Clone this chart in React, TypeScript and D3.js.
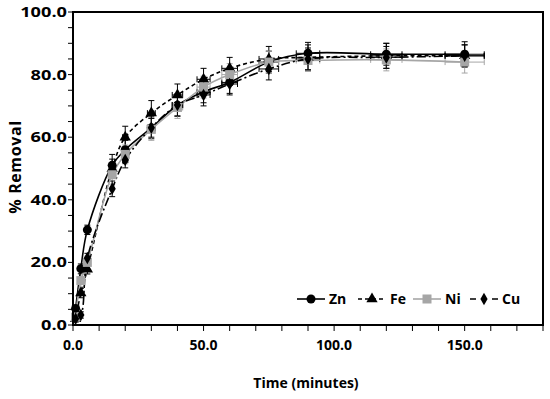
import React from 'react';
import * as d3 from 'd3';

const times = [1, 3, 5.5, 15, 20, 30, 40, 50, 60, 75, 90, 120, 150];
const znValues = [5.3, 18.0, 30.4, 51.0, 56.0, 63.0, 70.2, 74.5, 77.5, 84.0, 86.8, 86.5, 86.5];
const feValues = [2.0, 10.2, 17.8, 50.0, 60.0, 67.7, 73.5, 78.5, 82.0, 85.0, 85.5, 86.0, 86.0];
const niValues = [2.5, 14.2, 20.0, 48.0, 54.5, 62.5, 69.5, 76.0, 80.0, 84.0, 84.5, 84.7, 84.0];
const cuValues = [2.0, 3.2, 21.4, 43.5, 52.7, 63.0, 70.3, 73.5, 77.0, 81.8, 85.0, 85.5, 86.0];
const znErrors = [1, 1.5, 1.5, 3.5, 3, 3.5, 3.5, 3.5, 3.5, 3.5, 3.5, 3.5, 4];
const feErrors = [1, 1.5, 1.5, 3, 3.5, 4, 3.5, 3.5, 3.5, 4, 4, 4, 3.5];
const niErrors = [1, 2, 2, 3, 3, 3.5, 3.5, 3.5, 3.5, 3.5, 3.5, 3.5, 3.5];
const cuErrors = [1, 1, 1.5, 2.5, 2.5, 3, 3.5, 3.5, 3.5, 3.5, 3.5, 3.5, 3.5];
const xErrorPct = 0.05;
const xTicks = [0, 50, 100, 150];
const yTicks = [0, 20, 40, 60, 80, 100];

const series = [
  { name: 'Zn', values: znValues, errors: znErrors, color: '#000', dash: 'none', marker: 'circle' },
  { name: 'Fe', values: feValues, errors: feErrors, color: '#000', dash: '4,3', marker: 'triangle' },
  { name: 'Ni', values: niValues, errors: niErrors, color: '#a6a6a6', dash: 'none', marker: 'square' },
  { name: 'Cu', values: cuValues, errors: cuErrors, color: '#000', dash: '9,3,2,3', marker: 'diamond' },
];

const width = 550, height = 399;
const margin = { top: 12, right: 7, bottom: 74, left: 73 };
const font = "'Open Sans', sans-serif";

const Marker = ({ type, x, y, color }) => {
  if (type === 'circle') return <circle cx={x} cy={y} r={4.5} fill={color} />;
  if (type === 'square') return <rect x={x - 4.5} y={y - 4.5} width={9} height={9} fill={color} />;
  if (type === 'triangle') {
    const p = d3.symbol(d3.symbolTriangle, 55)();
    return <path d={p} transform={`translate(${x},${y})`} fill={color} />;
  }
  const p = d3.symbol(d3.symbolDiamond, 45)();
  return <path d={p} transform={`translate(${x},${y})`} fill={color} />;
};

export default function App() {
  const x = d3.scaleLinear().domain([0, 180]).range([margin.left, width - margin.right]);
  const y = d3.scaleLinear().domain([0, 100]).range([height - margin.bottom, margin.top]);
  const line = d3.line<number>()
    .x((_, i) => x(times[i]))
    .y(d => y(d))
    .curve(d3.curveCatmullRom.alpha(0.5));

  const x0 = x(0), y0 = y(0);
  const minorX = d3.range(0, 181, 10);
  const minorY = d3.range(0, 101, 5);
  const legendY = 299;
  const legendX = [297, 358, 413, 470];

  return (
    <svg width={width} height={height} style={{ position: 'absolute', left: 0, top: 0 }}>
      <rect width={width} height={height} fill="#fff" />
      {/* error bars */}
      {series.map(s => (
        <g key={s.name + 'err'} stroke={s.color} strokeWidth={1}>
          {s.values.map((v, i) => {
            const cx = x(times[i]), cy = y(v);
            const yt = y(v + s.errors[i]), yb = y(v - s.errors[i]);
            const dx = x(times[i] * (1 + xErrorPct)) - cx;
            return (
              <g key={i}>
                <line x1={cx} x2={cx} y1={yt} y2={yb} />
                <line x1={cx - 3} x2={cx + 3} y1={yt} y2={yt} />
                <line x1={cx - 3} x2={cx + 3} y1={yb} y2={yb} />
                {dx > 2 && (
                  <>
                    <line x1={cx - dx} x2={cx + dx} y1={cy} y2={cy} />
                    <line x1={cx - dx} x2={cx - dx} y1={cy - 3} y2={cy + 3} />
                    <line x1={cx + dx} x2={cx + dx} y1={cy - 3} y2={cy + 3} />
                  </>
                )}
              </g>
            );
          })}
        </g>
      ))}
      {/* lines */}
      {series.map(s => (
        <path key={s.name} d={line(s.values) || ''} fill="none" stroke={s.color}
          strokeWidth={1.6} strokeDasharray={s.dash} />
      ))}
      {series.map(s => (
        <g key={s.name + 'm'}>
          {s.values.map((v, i) => (
            <Marker key={i} type={s.marker} x={x(times[i])} y={y(v)} color={s.color} />
          ))}
        </g>
      ))}
      {/* frame */}
      <rect x={x0} y={margin.top} width={x(180) - x0} height={y0 - margin.top}
        fill="none" stroke="#000" strokeWidth={2} />
      {/* ticks */}
      {minorY.map(t => (
        <line key={'yt' + t} x1={x0 - 5} x2={x0} y1={y(t)} y2={y(t)} stroke="#000" strokeWidth={1} />
      ))}
      {minorX.map(t => (
        <line key={'xt' + t} x1={x(t)} x2={x(t)} y1={y0} y2={y0 + 6} stroke="#000" strokeWidth={1} />
      ))}
      {yTicks.map(t => (
        <text key={'yl' + t} transform={`translate(${x0 - 6},${y(t)}) scale(1.3,1)`} dy="0.35em"
          textAnchor="end" fontFamily={font} fontWeight={700} fontSize={14} fill="#000">{t.toFixed(1)}</text>
      ))}
      {xTicks.map(t => (
        <text key={'xl' + t} x={x(t)} y={y0 + 20} dy="0.35em" textAnchor="middle"
          fontFamily={font} fontWeight={700} fontSize={14} fill="#000">{t.toFixed(1)}</text>
      ))}
      <text x={306} y={383} dy="0.35em" textAnchor="middle" fontFamily={font} fontWeight={700}
        fontSize={14} fill="#000">Time (minutes)</text>
      <text transform={`translate(15,167) rotate(-90)`} dy="0.35em"
        textAnchor="middle" fontFamily={font} fontWeight={700} fontSize={16} letterSpacing={0.6}
        fill="#000">% Removal</text>
      {/* legend */}
      {series.map((s, i) => (
        <g key={s.name + 'lg'}>
          <line x1={legendX[i]} x2={legendX[i] + 28} y1={legendY} y2={legendY} stroke={s.color}
            strokeWidth={1.6} strokeDasharray={s.dash === 'none' ? 'none' : (s.name === 'Fe' ? '4,3' : '6,5')} />
          <Marker type={s.marker} x={legendX[i] + 14} y={legendY} color={s.color} />
          <text x={legendX[i] + 32} y={legendY} dy="0.35em" fontFamily={font} fontWeight={700}
            fontSize={14} fill="#000">{s.name}</text>
        </g>
      ))}
    </svg>
  );
}
